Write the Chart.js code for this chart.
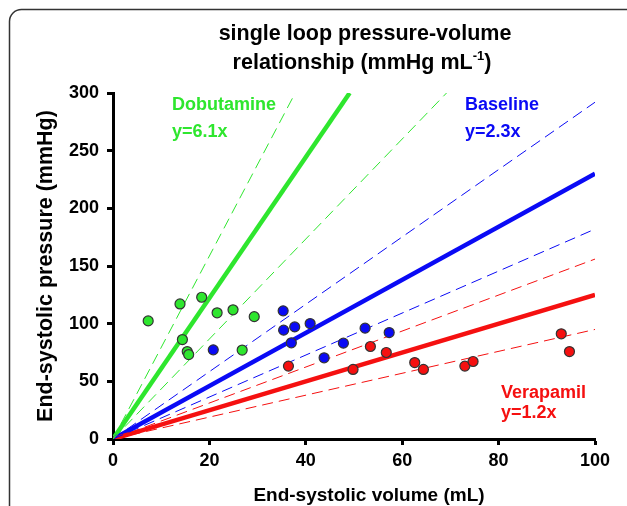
<!DOCTYPE html>
<html lang="en">
<head>
<meta charset="UTF-8">
<title>single loop pressure-volume relationship</title>
<script src="https://cdn.jsdelivr.net/npm/chart.js"></script>
<style>
  html, body { margin: 0; padding: 0; background: #fff; }
</style>
</head>
<body>
<canvas id="grafico" width="627" height="506"></canvas>

<script>
  // eixos
  const xTicks = [0, 20, 40, 60, 80, 100];
  const yTicks = [0, 50, 100, 150, 200, 250, 300];

  // pontos (volume mL, pressao mmHg)
  const dobutaminaVol = [7.3, 13.9, 18.4, 21.6, 24.9, 29.3, 14.4, 15.4, 15.7, 26.8];
  const dobutaminaPres = [102.4, 117.1, 122.9, 109.4, 112.0, 106.1, 86.2, 75.8, 73.2, 77.1];

  const basalVol = [35.3, 35.4, 37.7, 40.9, 37.0, 20.8, 43.8, 47.8, 52.3, 57.3];
  const basalPres = [111.1, 94.4, 97.2, 100.1, 83.4, 77.3, 70.4, 83.1, 96.1, 92.3];

  const verapamilVol = [36.4, 49.8, 53.4, 56.7, 62.6, 64.4, 73.0, 74.7, 93.0, 94.7];
  const verapamilPres = [63.2, 60.3, 80.2, 75.0, 66.3, 60.3, 63.2, 67.2, 91.2, 75.8];

  // retas (pontos extremos [x, y])
  const retaDobutamina = [[0, 0], [49.1, 300]];
  const retaDobutaminaSup = [[0, 0], [37.8, 300]];
  const retaDobutaminaInf = [[0, 0], [69.2, 300]];
  const retaBasal = [[0, 0], [100, 230]];
  const retaBasalSup = [[0, 0], [100, 292]];
  const retaBasalInf = [[0, 0], [100, 182]];
  const retaVerapamil = [[0, 0], [100, 125]];
  const retaVerapamilSup = [[0, 0], [100, 156]];
  const retaVerapamilInf = [[0, 0], [100, 95]];

  const VERDE = '#2ee62e';
  const AZUL = '#0a0af5';
  const VERMELHO = '#f51010';
  const FONTE = '"Liberation Sans", Arial, sans-serif';

  Chart.defaults.font.family = FONTE;
  Chart.defaults.color = '#000';

  function pontos(xs, ys) {
    return xs.map((x, i) => ({ x: x, y: ys[i] }));
  }

  function reta(par, cor, largura, tracejado) {
    return {
      type: 'scatter',
      data: par.map(p => ({ x: p[0], y: p[1] })),
      showLine: true,
      borderColor: cor,
      borderWidth: largura,
      borderDash: tracejado ? [11, 6] : [],
      pointRadius: 0,
      pointHoverRadius: 0,
      order: 2
    };
  }

  function nuvem(xs, ys, cor) {
    return {
      type: 'scatter',
      data: pontos(xs, ys),
      backgroundColor: cor,
      borderColor: '#333',
      borderWidth: 1.2,
      pointRadius: 5,
      order: 1
    };
  }

  // moldura, titulo e rotulos
  const textos = {
    id: 'textos',
    beforeDraw(chart) {
      const ctx = chart.ctx;
      ctx.save();
      ctx.strokeStyle = '#333';
      ctx.lineWidth = 1.5;
      ctx.beginPath();
      ctx.roundRect(9.5, 9.5, 700, 600, 12);
      ctx.stroke();
      ctx.restore();
    },
    afterDraw(chart) {
      const ctx = chart.ctx;
      const area = chart.chartArea;
      ctx.save();
      ctx.fillStyle = '#000';
      ctx.textBaseline = 'alphabetic';

      ctx.font = 'bold 21.5px ' + FONTE;
      ctx.textAlign = 'center';
      ctx.fillText('single loop pressure-volume', 365, 40);

      const parte1 = 'relationship (mmHg mL';
      const sup = '-1';
      const parte2 = ')';
      ctx.textAlign = 'left';
      const w1 = ctx.measureText(parte1).width;
      const w3 = ctx.measureText(parte2).width;
      ctx.font = 'bold 13px ' + FONTE;
      const w2 = ctx.measureText(sup).width;
      let x = 362 - (w1 + w2 + w3) / 2;
      ctx.font = 'bold 21.5px ' + FONTE;
      ctx.fillText(parte1, x, 69);
      ctx.font = 'bold 13px ' + FONTE;
      ctx.fillText(sup, x + w1, 60);
      ctx.font = 'bold 21.5px ' + FONTE;
      ctx.fillText(parte2, x + w1 + w2, 69);

      // titulo do eixo x
      ctx.textAlign = 'center';
      ctx.font = 'bold 19px ' + FONTE;
      ctx.fillText('End-systolic volume (mL)', (area.left + area.right) / 2 + 15, 501);

      ctx.textAlign = 'left';
      ctx.font = 'bold 18px ' + FONTE;
      ctx.fillStyle = VERDE;
      ctx.fillText('Dobutamine', 172, 110);
      ctx.fillText('y=6.1x', 172, 137);
      ctx.fillStyle = AZUL;
      ctx.fillText('Baseline', 465, 110);
      ctx.fillText('y=2.3x', 465, 137);
      ctx.fillStyle = VERMELHO;
      ctx.fillText('Verapamil', 501, 398);
      ctx.fillText('y=1.2x', 501, 418);
      ctx.restore();
    }
  };

  new Chart(document.getElementById('grafico'), {
    type: 'scatter',
    data: {
      datasets: [
        nuvem(dobutaminaVol, dobutaminaPres, VERDE),
        nuvem(basalVol, basalPres, AZUL),
        nuvem(verapamilVol, verapamilPres, VERMELHO),
        reta(retaDobutaminaSup, VERDE, 1, true),
        reta(retaDobutaminaInf, VERDE, 1, true),
        reta(retaBasalSup, AZUL, 1, true),
        reta(retaBasalInf, AZUL, 1, true),
        reta(retaVerapamilSup, VERMELHO, 1, true),
        reta(retaVerapamilInf, VERMELHO, 1, true),
        reta(retaVerapamil, VERMELHO, 4.5, false),
        reta(retaBasal, AZUL, 4.5, false),
        reta(retaDobutamina, VERDE, 4.5, false)
      ]
    },
    options: {
      responsive: false,
      animation: false,
      layout: { padding: { top: 93, right: 32, left: 0, bottom: 0 } },
      plugins: {
        legend: { display: false },
        tooltip: { enabled: false }
      },
      scales: {
        x: {
          type: 'linear',
          min: 0,
          max: 100,
          afterBuildTicks: s => { s.ticks = xTicks.map(v => ({ value: v })); },
          afterFit: s => { s.height = 67; },
          border: { display: true, color: '#000', width: 3 },
          grid: { drawOnChartArea: false, drawTicks: true, tickLength: 6, tickWidth: 3, tickColor: '#000' },
          ticks: { padding: 5, font: { size: 18, weight: 'bold' }, color: '#000' }
        },
        y: {
          type: 'linear',
          min: 0,
          max: 300,
          afterBuildTicks: s => { s.ticks = yTicks.map(v => ({ value: v })); },
          afterFit: s => { s.width = 113; },
          border: { display: true, color: '#000', width: 3 },
          grid: { drawOnChartArea: false, drawTicks: true, tickLength: 6, tickWidth: 3, tickColor: '#000' },
          ticks: { padding: 8, font: { size: 18, weight: 'bold' }, color: '#000' },
          title: { display: true, text: 'End-systolic pressure (mmHg)', font: { size: 21.5, weight: 'bold' }, padding: { top: 33, bottom: 0 } }
        }
      }
    },
    plugins: [textos]
  });
</script>
</body>
</html>
